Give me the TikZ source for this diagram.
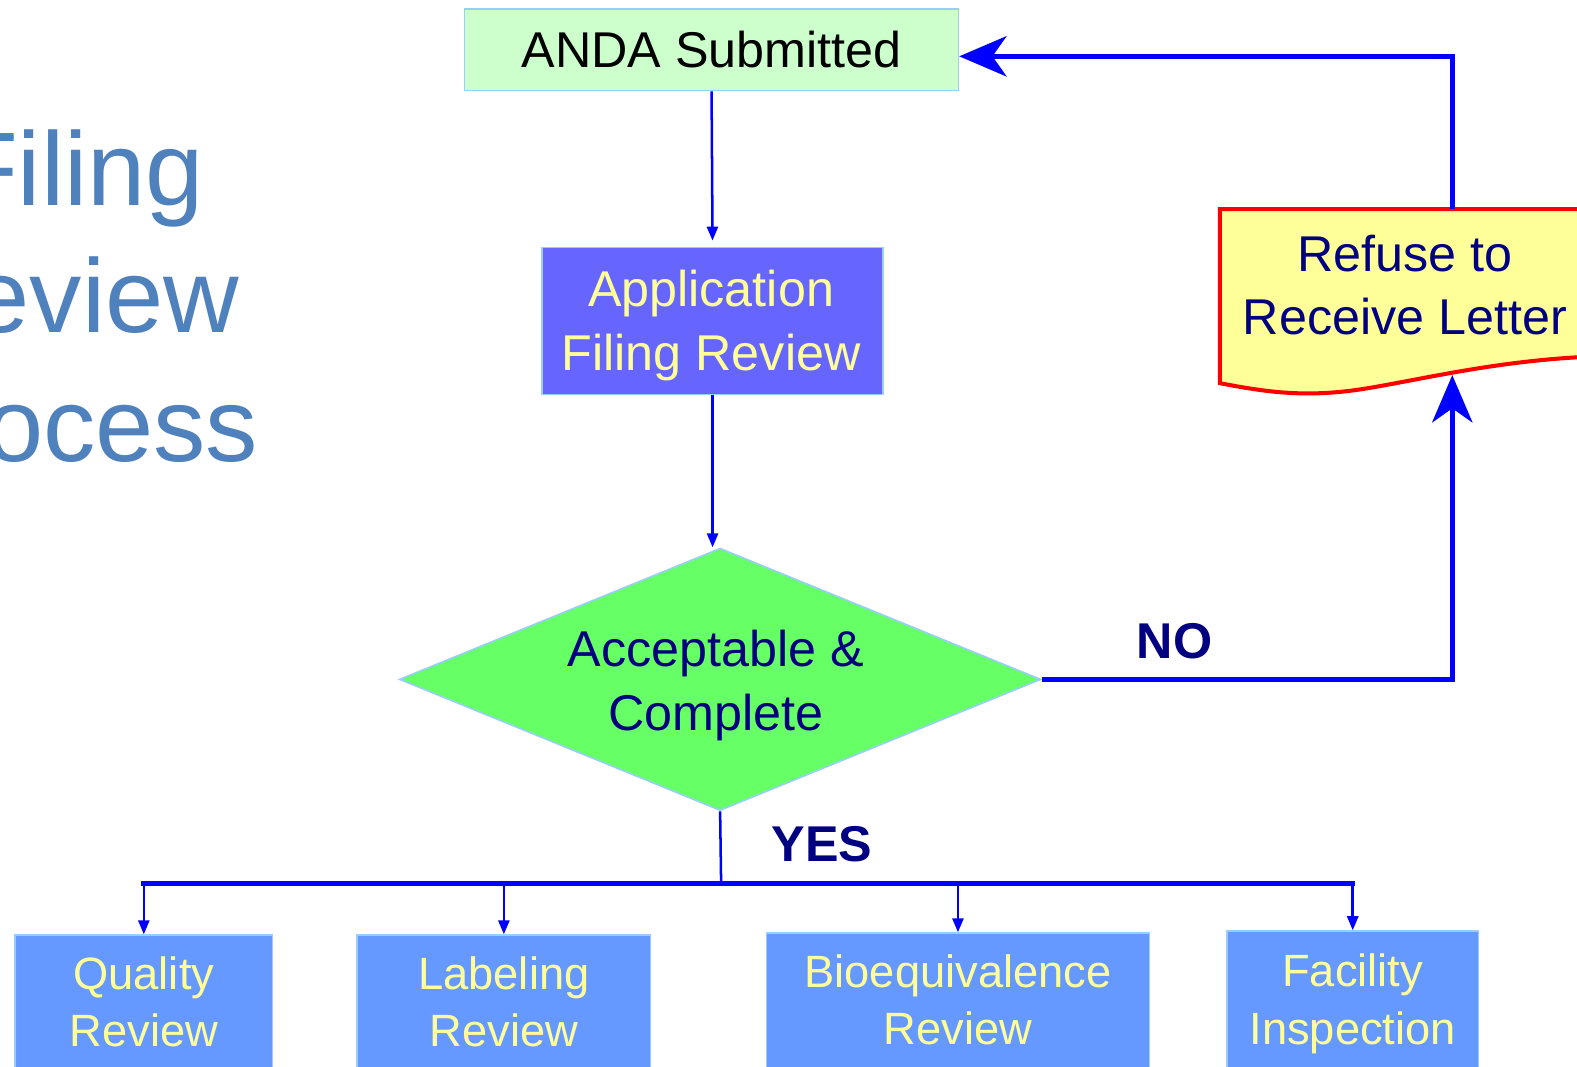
\documentclass[tikz,border=0pt]{standalone}
\usepackage{fontspec}
\setmainfont{Liberation Sans}
\usetikzlibrary{arrows.meta,shapes.geometric,calc}
\definecolor{bordercol}{HTML}{99CCFF}
\definecolor{andafill}{HTML}{CCFFCC}
\definecolor{afrfill}{HTML}{6666FF}
\definecolor{revfill}{HTML}{6699FF}
\definecolor{diafill}{HTML}{66FF66}
\definecolor{letterfill}{HTML}{FFFF99}
\definecolor{yeltext}{HTML}{FFFF99}
\definecolor{navytext}{HTML}{000080}
\definecolor{titlecol}{HTML}{4F81BD}
\definecolor{arrowblue}{HTML}{0000FF}
\begin{document}
\begin{tikzpicture}[x=1pt,y=-1pt,
  titletext/.style={anchor=base east,inner sep=0pt,text=titlecol,font=\fontsize{104}{110}\selectfont},
  andabox/.style={draw=bordercol,line width=1.5pt,fill=andafill,minimum width=491pt,minimum height=81pt,inner sep=0pt,font=\fontsize{50}{60}\selectfont},
  afrbox/.style={draw=bordercol,line width=1.5pt,fill=afrfill,minimum width=339pt,minimum height=146pt,inner sep=0pt},
  yelblock/.style={inner sep=0pt,align=center,text=yeltext,font=\fontsize{50}{63}\selectfont},
  navyblock/.style={inner sep=0pt,align=center,text=navytext,font=\fontsize{50}{63}\selectfont},
  diabox/.style={diamond,draw=bordercol,line width=1.5pt,fill=diafill,minimum width=638pt,minimum height=261pt,inner sep=0pt,shape aspect=2.444},
  revbox/.style={draw=bordercol,line width=1.5pt,fill=revfill,inner sep=0pt,anchor=north,minimum height=170pt},
  revtext/.style={inner sep=0pt,align=center,text=yeltext,font=\fontsize{45}{57}\selectfont},
  answer/.style={anchor=base west,inner sep=0pt,text=navytext,font=\fontsize{50}{60}\selectfont\bfseries},
  thinarrow/.style={draw=arrowblue,line width=2.5pt,-{Triangle[width=11pt,length=14pt]}},
  thinline/.style={draw=arrowblue,line width=2.5pt},
  busline/.style={draw=arrowblue,line width=5pt,line cap=rect},
  bigarrow/.style={draw=arrowblue,line width=5pt,-{Stealth[width=40pt,length=47pt,inset=14pt]}},
  letterpath/.style={draw=red,line width=4pt,fill=letterfill}
]
\useasboundingbox (0,0) rectangle (1568,1060);
\clip (0,0) rectangle (1568,1060);

% title (cut off at left edge, as in the reference)
\node[titletext] (t1) at (203,204) {Filing};
\node[titletext] (t2) at (238,331) {Review};
\node[titletext] (t3) at (257,459) {Process};

% top box
\node[andabox] (anda) at (707.5,49.5) {ANDA Submitted};

% application filing review
\node[afrbox] (afr) at (708.5,319) {};
\node[yelblock] (afrtext) at (707,323.5) {Application\\Filing Review};

% decision diamond
\node[diabox] (dia) at (716,675.5) {};
\node[navyblock] (diatext) at (712,681.5) {Acceptable \&\\Complete};

% refuse to receive letter (document shape)
\draw[letterpath] (1213,208) -- (1600,208) -- (1600,354)
  .. controls (1500,356) and (1420,376) .. (1360,386)
  .. controls (1300,396) and (1260,390) .. (1213,381) -- cycle;
\node[navyblock] (rtr) at (1397,283.5) {Refuse to\\Receive Letter};
\coordinate (rtrtop) at (1444,208);
\coordinate (rtrbot) at (1444,373);

% labels
\node[answer] (no) at (1130,655) {NO};
\node[answer] (yes) at (767,857) {YES};

% review boxes (running off the bottom edge)
\node[revbox,minimum width=256pt] (qual) at (143,929) {};
\node[revbox,minimum width=292pt] (lab) at (501,929) {};
\node[revbox,minimum width=381pt] (bio) at (952.5,927) {};
\node[revbox,minimum width=250pt] (fac) at (1345,925) {};
\node[revtext] (qualtext) at (143,996) {Quality\\Review};
\node[revtext] (labtext) at (501,996) {Labeling\\Review};
\node[revtext] (biotext) at (952.5,994) {Bioequivalence\\Review};
\node[revtext] (factext) at (1345,998) {Facility\\Inspection};

% connectors
\draw[thinarrow,shorten >=6pt] (anda.south) -- (afr.north);
\draw[thinarrow] (afr.south) -- (afr.south |- dia.north);
\draw[bigarrow] (dia.east) -| (rtrbot);
\draw[bigarrow] (rtrtop) |- ([yshift=-6.5pt]anda.east);
\coordinate (bus) at (717,878);
\draw[thinline] (dia.south) -- (bus);
\draw[busline] (qual.north |- bus) -- (fac.north |- bus);
\foreach \n in {qual,lab,bio,fac}
  \draw[thinarrow] (\n.north |- bus) -- (\n.north);
\end{tikzpicture}
\end{document}
